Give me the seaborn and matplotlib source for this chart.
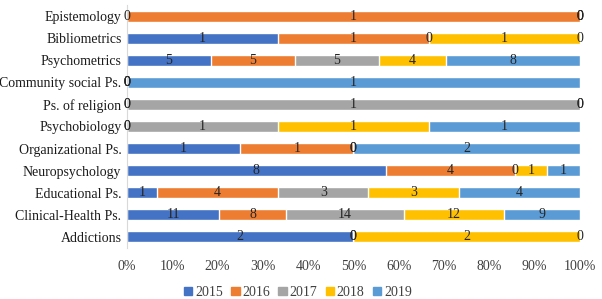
import matplotlib
matplotlib.use("Agg")
import matplotlib.pyplot as plt
import seaborn as sns
import pandas as pd
import numpy as np
from matplotlib.patches import Patch

categories = ["Epistemology", "Bibliometrics", "Psychometrics", "Community social Ps.",
              "Ps. of religion", "Psychobiology", "Organizational Ps.", "Neuropsychology",
              "Educational Ps.", "Clinical-Health Ps.", "Addictions"]
years = ["2015", "2016", "2017", "2018", "2019"]
v2015 = [0, 1, 5, 0, 0, 0, 1, 8, 1, 11, 2]
v2016 = [1, 1, 5, 0, 0, 0, 1, 4, 4, 8, 0]
v2017 = [0, 0, 5, 0, 1, 1, 0, 0, 3, 14, 0]
v2018 = [0, 1, 4, 0, 0, 1, 0, 1, 3, 12, 2]
v2019 = [0, 0, 8, 1, 0, 1, 2, 1, 4, 9, 0]
colors = ["#4472C4", "#ED7D31", "#A5A5A5", "#FFC000", "#5B9BD5"]

sns.set_theme(style="white")
plt.rcParams['font.family'] = ['Liberation Serif', 'DejaVu Serif']

vals = np.array([v2015, v2016, v2017, v2018, v2019], dtype=float)
tot = vals.sum(axis=0)
pct = vals / tot * 100
cum = np.cumsum(pct, axis=0)
start = cum - pct

fig = plt.figure(figsize=(6.02, 2.99), dpi=100)
ax = fig.add_axes([0.211, 0.171, 0.752, 0.812])

for i in range(len(years) - 1, -1, -1):
    df = pd.DataFrame({"cat": categories, "cum": cum[i]})
    sns.barplot(data=df, x="cum", y="cat", orient="h", color=colors[i],
                saturation=1, width=0.5, ax=ax, order=categories)

for i in range(len(years)):
    for j in range(len(categories)):
        xc = start[i, j] + pct[i, j] / 2
        ax.text(xc, j, f"{int(vals[i, j])}", ha="center", va="center",
                fontsize=10, color="#262626")

ax.set_xlim(0, 100)
ax.set_ylim(len(categories) - 0.5, -0.5)
ax.set_xticks(np.arange(0, 101, 10))
ax.set_xticklabels([f"{t}%" for t in range(0, 101, 10)], fontsize=10, color="#404040")
ax.tick_params(axis="y", labelsize=10, labelcolor="#1a1a1a", length=0, pad=4)
ax.tick_params(axis="x", length=0, pad=9)
ax.set_xlabel("")
ax.set_ylabel("")
for s in ["top", "right", "bottom"]:
    ax.spines[s].set_visible(False)
ax.spines["left"].set_color("#D9D9D9")
ax.spines["left"].set_linewidth(0.8)

handles = [Patch(color=c, label=y) for c, y in zip(colors, years)]
fig.legend(handles=handles, loc="center", bbox_to_anchor=(0.495, 0.022), ncol=5,
           frameon=False, fontsize=10, handlelength=0.6, handleheight=0.6,
           handletextpad=0.2, columnspacing=0.6, labelcolor="#404040")

fig.savefig("out.png", dpi=100)
